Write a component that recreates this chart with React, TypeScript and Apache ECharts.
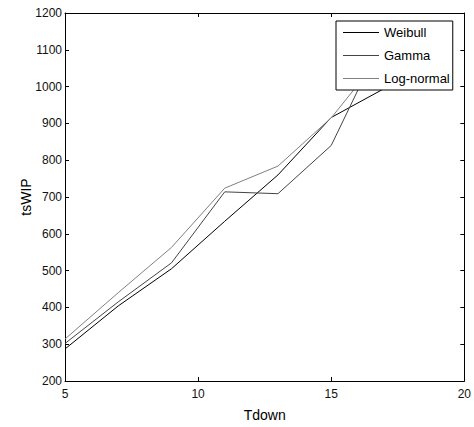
import React, { useEffect, useRef } from "react";
import * as echarts from "echarts";

const tdown = [5, 7, 9, 11, 13, 15, 17];
const weibull = [287, 404, 505, 634, 760, 916, 995];
const gamma = [302, 415, 521, 714, 709, 840, 1140];
const logNormal = [314, 440, 563, 724, 784, 915, 1095];
const seriesNames = ["Weibull", "Gamma", "Log-normal"];
const seriesColors = ["#000000", "#444444", "#808080"];

const FONT = "'Liberation Sans', Arial, sans-serif";
const LINE_ICON = "path://M0,0 L36,0 L36,1 L0,1 Z";

export default function App() {
  const ref = useRef<HTMLDivElement>(null);
  useEffect(() => {
    if (!ref.current) return;
    const chart = echarts.init(ref.current, undefined, { renderer: "svg" });
    const all = [weibull, gamma, logNormal];
    const axisLine = { show: true, lineStyle: { color: "#000", width: 1 } };
    const tick = { show: true, inside: true, length: 4, lineStyle: { color: "#000" } };
    const plain = (v: number) => String(v);
    chart.setOption({
      animation: false,
      backgroundColor: "#fff",
      textStyle: { fontFamily: FONT },
      grid: { left: 65, right: 7, top: 13, bottom: 43, containLabel: false },
      legend: {
        orient: "vertical",
        left: 336,
        top: 21,
        padding: [5, 3, 5, 7],
        itemWidth: 36,
        itemHeight: 14,
        itemGap: 10,
        backgroundColor: "#fff",
        borderColor: "#000",
        borderWidth: 1,
        borderRadius: 0,
        z: 10,
        textStyle: { fontSize: 13, color: "#000", fontFamily: FONT },
        data: seriesNames.map((name, i) => ({
          name,
          icon: LINE_ICON,
          itemStyle: { color: seriesColors[i] },
        })),
      },
      xAxis: [
        {
          type: "value",
          min: 5,
          max: 20,
          interval: 5,
          name: "Tdown",
          nameLocation: "middle",
          nameGap: 27,
          nameMoveOverlap: false,
          nameTextStyle: { fontSize: 14, color: "#000", fontFamily: FONT },
          axisLine,
          axisTick: tick,
          axisLabel: { fontSize: 12, color: "#111", margin: 7, fontFamily: FONT, formatter: plain },
          splitLine: { show: false },
        },
        {
          type: "value",
          position: "top",
          min: 5,
          max: 20,
          interval: 5,
          axisLine,
          axisTick: tick,
          axisLabel: { show: false },
          splitLine: { show: false },
        },
      ],
      yAxis: [
        {
          type: "value",
          min: 200,
          max: 1200,
          interval: 100,
          name: "tsWIP",
          nameLocation: "middle",
          nameGap: 32,
          nameMoveOverlap: false,
          nameTextStyle: { fontSize: 14, color: "#000", fontFamily: FONT },
          axisLine,
          axisTick: tick,
          axisLabel: { fontSize: 12, color: "#111", margin: 3, fontFamily: FONT, formatter: plain },
          splitLine: { show: false },
        },
        {
          type: "value",
          position: "right",
          min: 200,
          max: 1200,
          interval: 100,
          axisLine,
          axisTick: tick,
          axisLabel: { show: false },
          splitLine: { show: false },
        },
      ],
      series: seriesNames.map((name, i) => ({
        name,
        type: "line",
        xAxisIndex: 0,
        yAxisIndex: 0,
        symbol: "none",
        z: 2,
        lineStyle: { color: seriesColors[i], width: 1 },
        itemStyle: { color: seriesColors[i] },
        data: tdown.map((x, j) => [x, all[i][j]]),
      })),
    });
    return () => chart.dispose();
  }, []);
  return (
    <div
      ref={ref}
      style={{ position: "fixed", left: 0, top: 0, width: 474, height: 427, background: "#fff" }}
    />
  );
}
